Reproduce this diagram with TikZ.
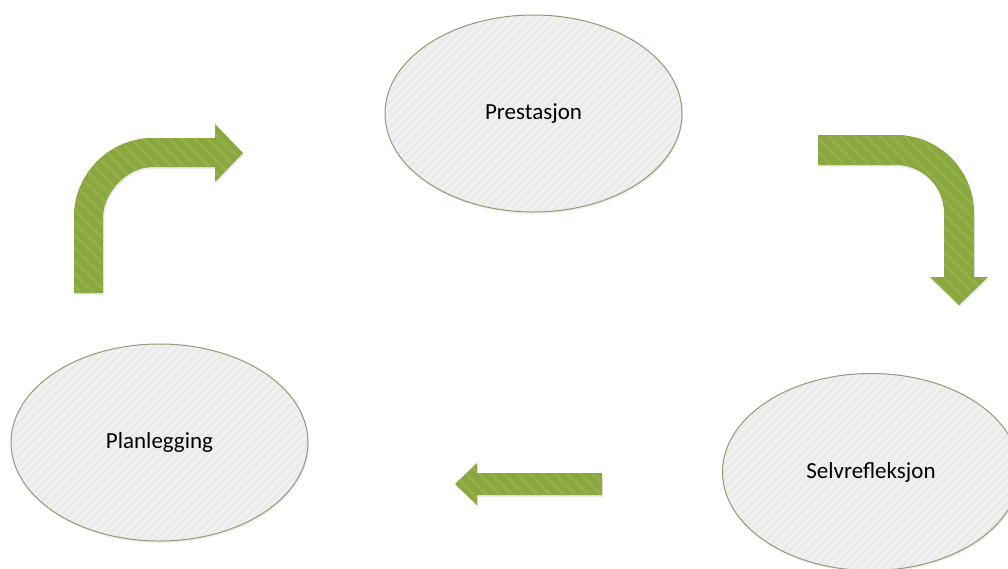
\documentclass[tikz,border=0pt]{standalone}
\usepackage{fontspec}
\setmainfont{Carlito}
\usetikzlibrary{shapes.geometric,patterns.meta,shadows}
\definecolor{arrowgreen}{RGB}{138,166,62}
\definecolor{stripegreen}{RGB}{148,175,74}
\definecolor{ellfill}{RGB}{240,240,240}
\definecolor{ellstripe}{RGB}{233,233,233}
\definecolor{elledge}{RGB}{150,153,112}
\begin{document}
\begin{tikzpicture}[x=1pt,y=-1pt,
  stage/.style={ellipse, draw=elledge, line width=1pt,
    minimum width=297pt, minimum height=197pt, inner sep=0pt,
    font=\fontsize{23}{26}\selectfont,
    drop shadow={opacity=0.12, shadow xshift=1pt, shadow yshift=-2pt},
    preaction={fill=ellfill},
    preaction={pattern={Lines[angle=45,distance=6pt,line width=2pt]}, pattern color=ellstripe}},
  blockarrow/.style={fill=arrowgreen,
    drop shadow={opacity=0.15, shadow xshift=1pt, shadow yshift=-2pt},
    postaction={pattern={Lines[angle=-45,distance=9pt,line width=3pt]}, pattern color=stripegreen}}]
\useasboundingbox[fill=white] (0,0) rectangle (1008,568);

\node[stage] (pre) at (533.5,113.5) {Prestasjon};
\node[stage] (plan) at (159.5,442.5) {Planlegging};
\node[stage] (selv) at (871,472) {Selvrefleksjon};

% bent arrow: Planlegging -> Prestasjon
\fill[blockarrow] (74,293) -- (74,217) .. controls (74,173.4) and (109.4,138) .. (153,138)
  -- (215,138) -- (215,124) -- (243,153) -- (215,182) -- (215,167) -- (153,167)
  .. controls (125.4,167) and (103,194.6) .. (103,217) -- (103,293) -- cycle;

% bent arrow: Prestasjon -> Selvrefleksjon
\fill[blockarrow] (818,135) -- (896,135) .. controls (939.1,135) and (974,169.9) .. (974,213)
  -- (974,277) -- (988,277) -- (959,305) -- (930,277) -- (944,277) -- (944,213)
  .. controls (944,186.5) and (922.5,165) .. (896,165) -- (818,165) -- cycle;

% straight arrow: Selvrefleksjon -> Planlegging
\fill[blockarrow] (602,473) -- (477,473) -- (477,463) -- (455,484) -- (477,505)
  -- (477,495) -- (602,495) -- cycle;
\end{tikzpicture}
\end{document}
